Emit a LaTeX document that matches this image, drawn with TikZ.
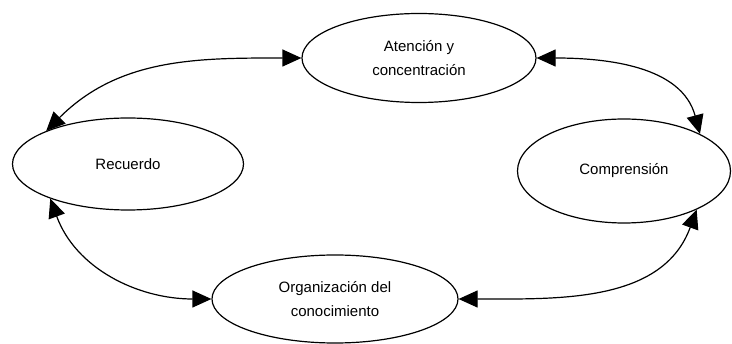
\documentclass[tikz,border=0pt]{standalone}
\usepackage{fontspec}
\setmainfont{Liberation Sans}
\usetikzlibrary{shapes.geometric,arrows.meta}
\begin{document}
\begin{tikzpicture}[
  stage/.style={ellipse, draw, line width=1.2pt, inner sep=0pt, align=center,
    font=\fontsize{15pt}{24pt}\selectfont},
  link/.style={line width=1.2pt,
    {Triangle[length=19pt,width=17pt]}-{Triangle[length=19pt,width=17pt]}}
]
\useasboundingbox (0,0) rectangle (732pt,-344pt);
\node[stage, minimum width=234pt, minimum height=89pt] (att) at (419pt,-58pt) {Atención y\\concentración};
\node[stage, minimum width=231pt, minimum height=92pt] (rec) at (128pt,-164pt) {Recuerdo};
\node[stage, minimum width=213pt, minimum height=104pt] (comp) at (624pt,-171pt) {Comprensión};
\node[stage, minimum width=246pt, minimum height=88pt] (org) at (335pt,-299pt) {Organización del\\conocimiento};
\draw[link] (rec.158) to[out=45,in=180] (att.west);
\draw[link] (att.east) to[out=0,in=105] (comp.26);
\draw[link] (org.east) to[out=0,in=-110] (comp.-28);
\draw[link] (rec.204) to[out=-70,in=180] (org.west);
\end{tikzpicture}
\end{document}
